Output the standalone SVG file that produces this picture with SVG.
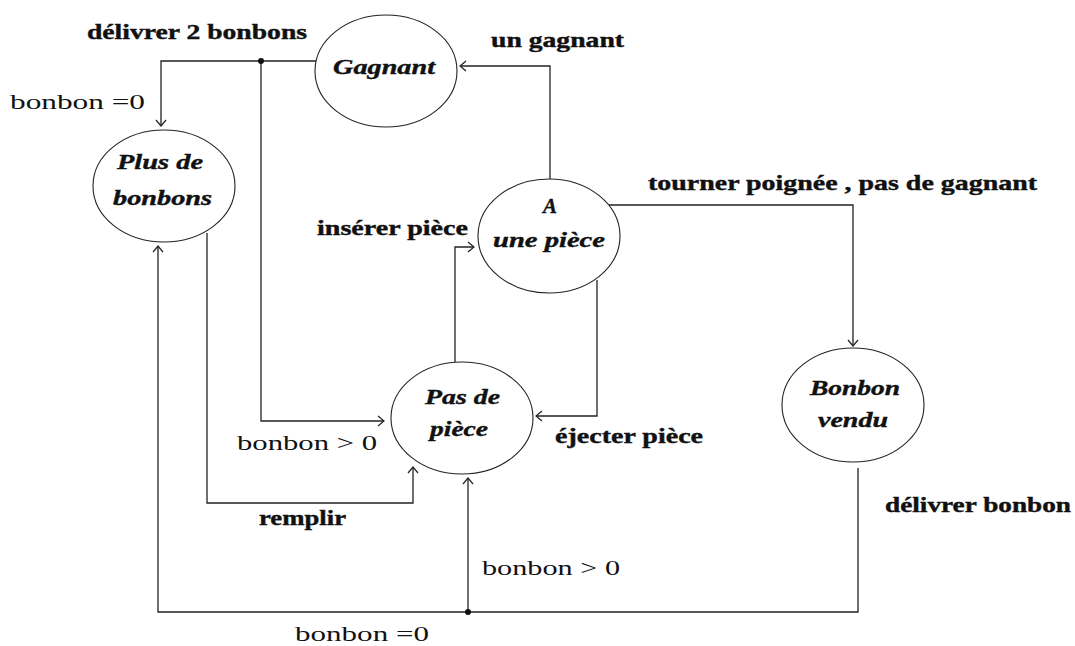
<svg xmlns="http://www.w3.org/2000/svg" width="1075" height="646" viewBox="0 0 1075 646" font-family="'Liberation Serif', Tinos, 'Times New Roman', Times, serif">
  <defs>
    <marker id="arrow" markerUnits="userSpaceOnUse" markerWidth="14" markerHeight="14" refX="7" refY="6" orient="auto">
      <path d="M1,1 L7,6 L1,11" fill="none" stroke="#222" stroke-width="1.2"/>
    </marker>
    <style>
      .node ellipse { fill: #fff; stroke: #222; stroke-width: 1.1; }
      .node text { font-size: 21px; font-weight: bold; font-style: italic; fill: #111; stroke: #111; stroke-width: 0.4; }
      .edge { fill: none; stroke: #222; stroke-width: 1.3; }
      .arrowed { marker-end: url(#arrow); }
      .dot { fill: #111; }
      .lbl { font-size: 21px; font-weight: bold; fill: #111; stroke: #111; stroke-width: 0.4; }
      .cond { font-size: 20px; fill: #111; }
    </style>
  </defs>
  <rect width="1075" height="646" fill="#fff"/>

  <!-- transitions -->
  <g id="connectors">
    <path class="edge arrowed" d="M316,61 H161 V126"/>
    <path class="edge arrowed" d="M261,61 V421 H384"/>
    <path class="edge arrowed" d="M550,179 V66 H460"/>
    <path class="edge arrowed" d="M609,205 H853 V346"/>
    <path class="edge arrowed" d="M455,362 V247 H474"/>
    <path class="edge arrowed" d="M597,280 V416 H536"/>
    <path class="edge arrowed" d="M207,233 V503 H413 V467"/>
    <path class="edge arrowed" d="M858,468 V612 H158 V246"/>
    <path class="edge arrowed" d="M468,612 V478"/>
    <circle class="dot" cx="261" cy="61" r="3"/>
    <circle class="dot" cx="468" cy="612" r="3"/>

    <text class="lbl" x="87" y="39" textLength="220" lengthAdjust="spacingAndGlyphs">délivrer 2 bonbons</text>
    <text class="cond" x="10" y="109" textLength="135" lengthAdjust="spacingAndGlyphs">bonbon =0</text>
    <text class="lbl" x="491" y="47" textLength="133" lengthAdjust="spacingAndGlyphs">un gagnant</text>
    <text class="lbl" x="648" y="190" textLength="389" lengthAdjust="spacingAndGlyphs">tourner poignée , pas de gagnant</text>
    <text class="lbl" x="317" y="235" textLength="151" lengthAdjust="spacingAndGlyphs">insérer pièce</text>
    <text class="cond" x="237" y="450" textLength="140" lengthAdjust="spacingAndGlyphs">bonbon &gt; 0</text>
    <text class="lbl" x="555" y="443" textLength="148" lengthAdjust="spacingAndGlyphs">éjecter pièce</text>
    <text class="lbl" x="259" y="525" textLength="87" lengthAdjust="spacingAndGlyphs">remplir</text>
    <text class="lbl" x="885" y="512" textLength="186" lengthAdjust="spacingAndGlyphs">délivrer bonbon</text>
    <text class="cond" x="482" y="575" textLength="138" lengthAdjust="spacingAndGlyphs">bonbon &gt; 0</text>
    <text class="cond" x="295" y="641" textLength="134" lengthAdjust="spacingAndGlyphs">bonbon =0</text>
  </g>

  <!-- states -->
  <g id="gagnant" class="node">
    <ellipse cx="386" cy="71" rx="71" ry="56"/>
    <text x="333" y="74" textLength="102" lengthAdjust="spacingAndGlyphs">Gagnant</text>
  </g>
  <g id="plus-de-bonbons" class="node">
    <ellipse cx="164" cy="186" rx="71" ry="56"/>
    <text x="117" y="169" textLength="86" lengthAdjust="spacingAndGlyphs">Plus de</text>
    <text x="113" y="205" textLength="99" lengthAdjust="spacingAndGlyphs">bonbons</text>
  </g>
  <g id="a-une-piece" class="node">
    <ellipse cx="549" cy="236" rx="71" ry="57"/>
    <text x="550" y="213" text-anchor="middle">A</text>
    <text x="493" y="247" textLength="112" lengthAdjust="spacingAndGlyphs">une pièce</text>
  </g>
  <g id="pas-de-piece" class="node">
    <ellipse cx="462" cy="418" rx="71" ry="56"/>
    <text x="425" y="404" textLength="75" lengthAdjust="spacingAndGlyphs">Pas de</text>
    <text x="430" y="436" textLength="58" lengthAdjust="spacingAndGlyphs">pièce</text>
  </g>
  <g id="bonbon-vendu" class="node">
    <ellipse cx="853" cy="405" rx="71" ry="57"/>
    <text x="810" y="395" textLength="90" lengthAdjust="spacingAndGlyphs">Bonbon</text>
    <text x="818" y="427" textLength="70" lengthAdjust="spacingAndGlyphs">vendu</text>
  </g>
</svg>
